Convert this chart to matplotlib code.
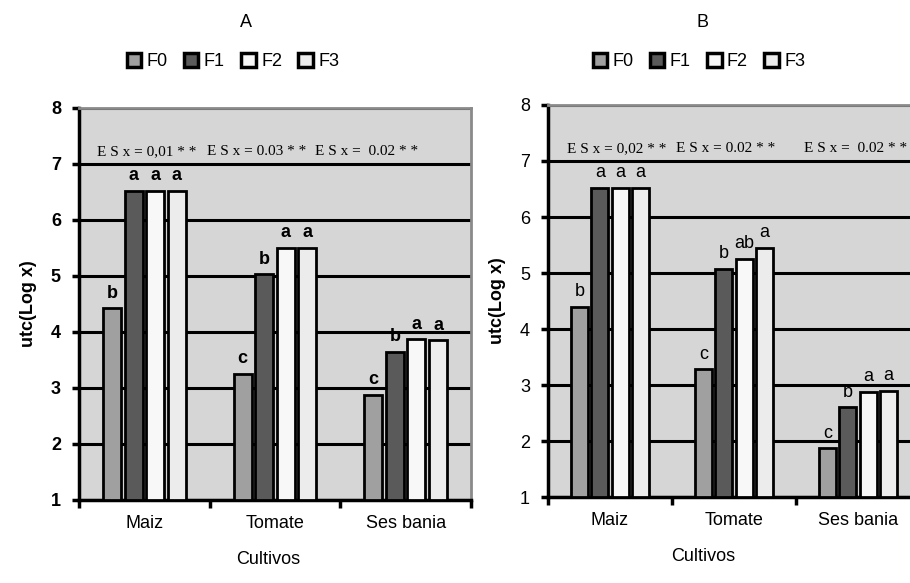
import numpy as np
import matplotlib.pyplot as plt
from matplotlib.patches import Patch

plt.rcParams['font.family'] = ['Liberation Sans Narrow', 'Liberation Sans', 'DejaVu Sans']

cultivos = ['Maiz', 'Tomate', 'Ses bania']
series = ['F0', 'F1', 'F2', 'F3']
colors = ['#a0a0a0', '#5a5a5a', '#f8f8f8', '#ececec']

# panel A values (rows = series, cols = cultivos)
vals_a = [[4.42, 3.25, 2.88],
          [6.52, 5.03, 3.65],
          [6.52, 5.50, 3.87],
          [6.52, 5.50, 3.85]]
letters_a = [['b', 'c', 'c'],
             ['a', 'b', 'b'],
             ['a', 'a', 'a'],
             ['a', 'a', 'a']]
es_a = ['E S x = 0,01 * *', 'E S x = 0.03 * *', 'E S x =  0.02 * *']

# panel B values
vals_b = [[4.40, 3.28, 1.87],
          [6.52, 5.08, 2.60],
          [6.52, 5.25, 2.88],
          [6.52, 5.45, 2.90]]
letters_b = [['b', 'c', 'c'],
             ['a', 'b', 'b'],
             ['a', 'ab', 'a'],
             ['a', 'a', 'a']]
es_b = ['E S x = 0,02 * *', 'E S x = 0.02 * *', 'E S x =  0.02 * *']


def panel(fig, rect, vals, letters, es, es_x, title, title_x, leg_x, bold, xlab_x):
    ax = fig.add_axes(rect)
    ax.set_facecolor('#d6d6d6')
    x = np.arange(len(cultivos))
    slot = 0.165
    w = 0.138
    wt = 'bold' if bold else 'normal'
    for i, s in enumerate(series):
        pos = x + (i - 1.5) * slot
        ax.bar(pos, np.array(vals[i]) - 1, w, bottom=1, color=colors[i],
               edgecolor='black', linewidth=2, zorder=3, label=s)
        for j in range(len(cultivos)):
            ax.text(pos[j], vals[i][j] + 0.12, letters[i][j], ha='center',
                    va='bottom', fontsize=13, fontweight=wt, zorder=4)
    for t, xp in zip(es, es_x):
        ax.text(xp, 7.22, t, ha='center', va='center', fontsize=11,
                family='Liberation Serif', zorder=4)
    ax.set_ylim(1, 8)
    ax.set_xlim(-0.5, 2.5)
    ax.set_yticks(range(1, 9))
    ax.set_yticklabels([str(v) for v in range(1, 9)], fontsize=13, fontweight=wt)
    ax.yaxis.grid(True, color='black', linewidth=2.2, zorder=1)
    ax.set_axisbelow(True)
    ax.set_xticks([-0.5, 0.5, 1.5, 2.5])
    ax.set_xticklabels([])
    ax.set_xticks(x, minor=True)
    ax.set_xticklabels(cultivos, minor=True, fontsize=13)
    ax.tick_params(axis='x', which='minor', length=0, pad=11)
    ax.tick_params(axis='x', which='major', length=6, width=2.5, direction='out')
    ax.tick_params(axis='y', length=5, width=2.5, direction='out', pad=8)
    for sp in ['left', 'bottom']:
        ax.spines[sp].set_linewidth(2.5)
    for sp in ['top', 'right']:
        ax.spines[sp].set_color('#8a8a8a')
        ax.spines[sp].set_linewidth(2)
    ax.set_ylabel('utc(Log x)', fontsize=13, fontweight='bold', labelpad=10)
    ax.set_xlabel('Cultivos', fontsize=13)
    ax.xaxis.set_label_coords(xlab_x, -0.13)
    fig.text(title_x, 0.962, title, ha='center', va='center', fontsize=13)
    handles = [Patch(facecolor=c, edgecolor='black', linewidth=2.5) for c in colors]
    fig.legend(handles, series, loc='center', bbox_to_anchor=(leg_x, 0.894),
               ncol=4, frameon=False, fontsize=13, handlelength=0.8,
               handleheight=0.8, handletextpad=0.3, columnspacing=0.9)
    return ax


fig = plt.figure(figsize=(9.1, 5.83), dpi=100)
panel(fig, [0.0868, 0.1424, 0.4308, 0.6724], vals_a, letters_a, es_a,
      [0.02, 0.86, 1.70], 'A', 0.270, 0.256, True, 0.482)
panel(fig, [0.6022, 0.1475, 0.4088, 0.6724], vals_b, letters_b, es_b,
      [0.056, 0.93, 1.98], 'B', 0.7725, 0.768, False, 0.417)
fig.savefig('out.png', dpi=100)
